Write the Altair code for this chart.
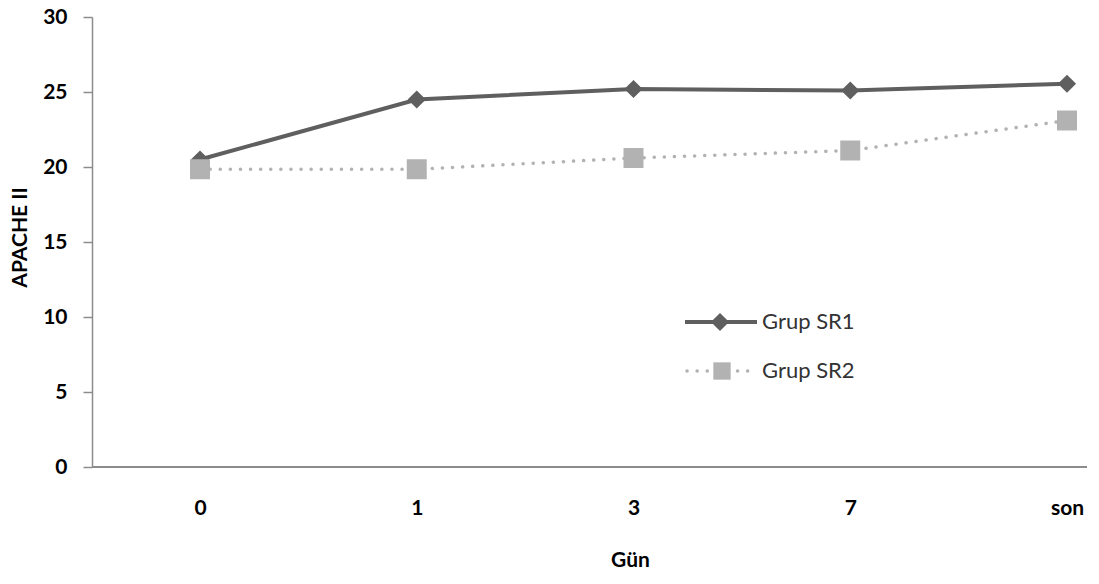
import altair as alt
import pandas as pd

days = ["0", "1", "3", "7", "son"]
sr1 = [20.5, 24.5, 25.2, 25.1, 25.55]
sr2 = [19.85, 19.85, 20.6, 21.1, 23.1]

df1 = pd.DataFrame({"Gün": days, "v": sr1})
df2 = pd.DataFrame({"Gün": days, "v": sr2})

W, H = 995, 450
FONT = "Lato"

x = alt.X("Gün:O", sort=days,
          scale=alt.Scale(type="point", range=[108, 975], padding=0),
          axis=alt.Axis(title="Gün", labelAngle=0, tickSize=0, labelPadding=30,
                        domain=False,
                        labelFontSize=21, labelFontWeight="bold", labelColor="#000",
                        labelFont=FONT,
                        titleFont=FONT, titleFontSize=21, titleFontWeight="bold",
                        titleColor="#000", titleX=538, titleY=93,
                        titleAlign="center", titleBaseline="middle"))
y = alt.Y("v:Q", scale=alt.Scale(domain=[0, 30], nice=False),
          axis=alt.Axis(title="APACHE II", values=[0, 5, 10, 15, 20, 25, 30],
                        grid=False, tickSize=9, tickColor="#8c8c8c", tickWidth=1.5,
                        domainColor="#8c8c8c", domainWidth=1.5, labelPadding=16,
                        labelFontSize=21, labelFontWeight="bold", labelColor="#000",
                        labelFont=FONT, titleFont=FONT, titleFontSize=21,
                        titleFontWeight="bold", titleColor="#000",
                        titleX=-72, titleY=220, titleAngle=-90,
                        titleAlign="center", titleBaseline="middle"))

c1 = "#5f5f5f"
c2 = "#b2b2b2"

xaxis_line = alt.Chart(pd.DataFrame({"a": [0]})).mark_rule(color="#8c8c8c", strokeWidth=2).encode(
    x=alt.value(0), x2=alt.value(W), y=alt.value(H))

l1 = alt.Chart(df1).mark_line(color=c1, strokeWidth=4).encode(x=x, y=y)
p1 = alt.Chart(df1).mark_point(shape="diamond", filled=True, size=330, color=c1, opacity=1).encode(x=x, y=y)
l2 = alt.Chart(df2).mark_line(color=c2, strokeWidth=3.5, strokeDash=[0.1, 10], strokeCap="round").encode(x=x, y=y)
p2 = alt.Chart(df2).mark_point(shape="square", filled=True, size=400, color=c2, opacity=1).encode(x=x, y=y)

# legend
leg_names = ["Grup SR1", "Grup SR2"]
lg1 = alt.Chart(pd.DataFrame({"n": [leg_names[0]]})).mark_rule(color=c1, strokeWidth=4).encode(
    x=alt.value(593), x2=alt.value(665), y=alt.value(305))
lgp1 = alt.Chart(pd.DataFrame({"n": [leg_names[0]]})).mark_point(shape="diamond", filled=True, size=330, color=c1, opacity=1).encode(
    x=alt.value(628), y=alt.value(305))
lg2 = alt.Chart(pd.DataFrame({"n": [leg_names[1]]})).mark_rule(color=c2, strokeWidth=3.5, strokeDash=[0.1, 10], strokeCap="round").encode(
    x=alt.value(595), x2=alt.value(665), y=alt.value(354))
lgp2 = alt.Chart(pd.DataFrame({"n": [leg_names[1]]})).mark_point(shape="square", filled=True, size=300, color=c2, opacity=1).encode(
    x=alt.value(630), y=alt.value(354))
lt = alt.Chart(pd.DataFrame({"n": leg_names, "yy": [305, 354]})).mark_text(
    align="left", baseline="middle", font=FONT, fontSize=22, color="#333").encode(
    x=alt.value(670), y=alt.Y("yy:Q", scale=None), text="n:N")

chart = alt.layer(xaxis_line, l1, p1, l2, p2, lg1, lgp1, lg2, lgp2, lt).properties(
    width=W, height=H,
    autosize=alt.AutoSizeParams(type="none"),
    padding={"left": 92, "top": 17, "right": 12, "bottom": 117},
    background="white",
).configure_view(stroke=None)

chart.save("out.html", embed_options={"renderer": "svg", "actions": False})
